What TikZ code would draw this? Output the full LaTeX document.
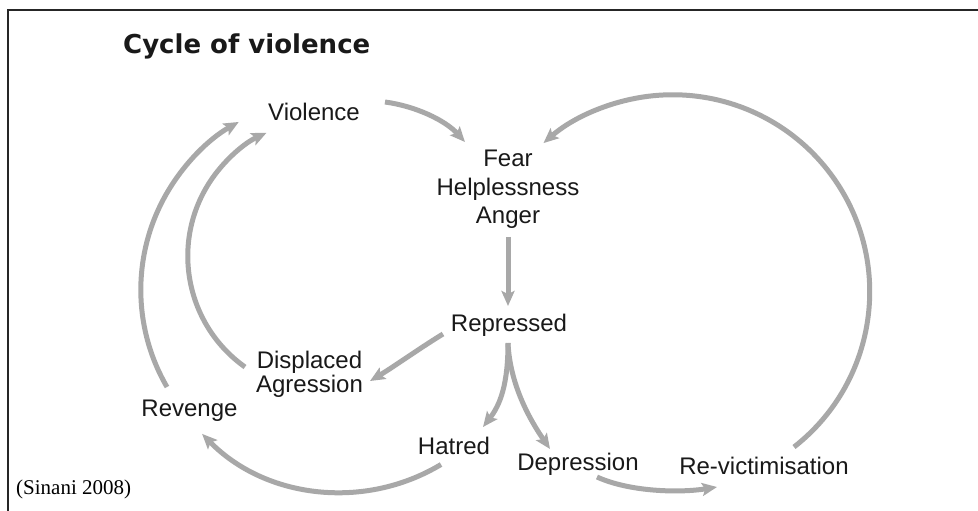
\documentclass[tikz,border=0pt]{standalone}
\usepackage{fontspec}
\setmainfont{Liberation Sans}
\newfontfamily\titlefont{DejaVu Sans}
\newfontfamily\srcfont{Liberation Serif}
\usetikzlibrary{arrows.meta}
\definecolor{arrowgray}{RGB}{168,168,168}
\definecolor{textdark}{RGB}{25,25,25}
\begin{document}
\begin{tikzpicture}[x=1pt,y=-1pt,
  lbl/.style={inner sep=0pt, text=textdark, font=\fontsize{24}{28.5}\selectfont},
  arr/.style={draw=arrowgray, line width=5pt, -{Stealth[length=15pt,width=13pt,inset=3pt]}}]
\useasboundingbox (0,0) rectangle (978,511);
\fill[white] (0,0) rectangle (978,511);
\draw[line width=2pt, black!85] (8,511) -- (8,10) -- (978,10);

% texts
\node[inner sep=0pt, anchor=base west, text=textdark,
      font=\titlefont\bfseries\fontsize{26}{30}\selectfont] (title) at (123,54) {Cycle of violence};
\node[inner sep=0pt, anchor=base west, text=black,
      font=\srcfont\fontsize{21}{25}\selectfont] (src) at (16,494) {(Sinani 2008)};

\node[lbl, anchor=base] (viol) at (314,121) {Violence};
\node[lbl, anchor=north, align=center] (fha) at (508,150) {Fear\\Helplessness\\Anger};
\node[lbl, anchor=base] (rep) at (509,331) {Repressed};
\node[lbl, anchor=north, align=center, font=\fontsize{24}{23.5}\selectfont] (disp) at (309.5,351) {Displaced\\Agression};
\node[lbl, anchor=base] (rev) at (189.5,416) {Revenge};
\node[lbl, anchor=base] (hat) at (454,454) {Hatred};
\node[lbl, anchor=base] (dep) at (578,470) {Depression};
\node[lbl, anchor=base] (rv) at (764,474) {Re-victimisation};

% connectors
\draw[arr] ([shift={(71,-19)}]viol.base) .. controls (415,106) and (445,120) .. ([shift={(-43,-8)}]fha.north);
\draw[arr] ([shift={(30,-27)}]rv.base) arc[start angle=52, end angle=-131, radius=197];
\draw[arr] ([shift={(0,8)}]fha.south) -- ([shift={(-1,-25)}]rep.base);
\draw[arr] ([shift={(-66,3)}]rep.base) .. controls (420,348) and (395,366) .. ([shift={(60.5,30)}]disp.north);
\draw[arr] ([shift={(-64.5,16)}]disp.north) arc[start angle=125.4, end angle=245.1, radius=136];
\draw[arr] ([shift={(-22.5,-29)}]rev.base) arc[start angle=149.8, end angle=240.5, radius=193];
\draw[arr] ([shift={(-13,10.5)}]hat.base) arc[start angle=59, end angle=135.6, radius=194.3];
\draw[arr] ([shift={(-1,12)}]rep.base) .. controls (508,385) and (500,405) .. ([shift={(29,-27)}]hat.base);
\draw[arr] ([shift={(-1,12)}]rep.base) .. controls (510,385) and (530,420) .. ([shift={(-28,-21)}]dep.base);
\draw[arr] ([shift={(19,7)}]dep.base) .. controls (630,492) and (680,493) .. ([shift={(-47,13)}]rv.base);
\end{tikzpicture}
\end{document}
